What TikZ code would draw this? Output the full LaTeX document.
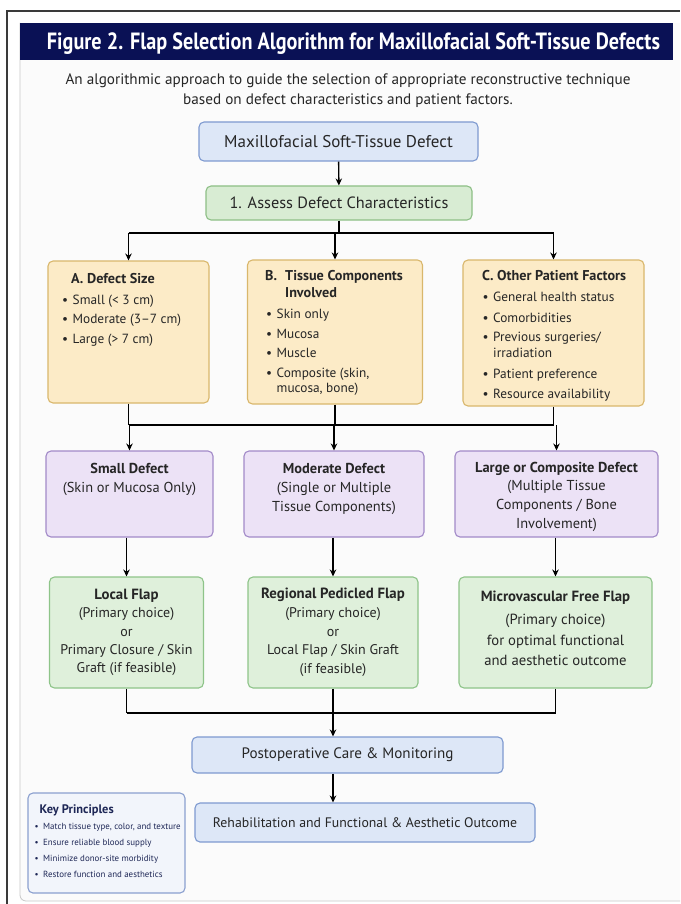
\documentclass[tikz,border=0pt]{standalone}
\usepackage{fontspec}
\setmainfont{PT Sans}
\usetikzlibrary{arrows.meta,calc}
\definecolor{navy}{HTML}{0A1155}
\definecolor{txt}{HTML}{262626}
\definecolor{bluefill}{HTML}{DDE7F7}
\definecolor{blueline}{HTML}{7E9AD0}
\definecolor{greenfill}{HTML}{D8ECD3}
\definecolor{greenline}{HTML}{8DBF86}
\definecolor{yelfill}{HTML}{FCEBC7}
\definecolor{yelline}{HTML}{D9B76C}
\definecolor{purfill}{HTML}{ECE2F6}
\definecolor{purline}{HTML}{A28AC8}
\definecolor{resfill}{HTML}{DFF0DB}
\definecolor{resline}{HTML}{8EC489}
\definecolor{keyfill}{HTML}{F2F5FB}
\definecolor{keyline}{HTML}{8BA0CF}
\definecolor{keytxt}{HTML}{1E2756}
\definecolor{panelbg}{HTML}{FBFBFB}
\definecolor{panelline}{HTML}{C8C8C8}
\definecolor{framec}{HTML}{3A3A3A}
\newcommand{\bul}{\makebox[10.5pt][l]{•}}
\begin{document}
\begin{tikzpicture}[x=1pt,y=-1pt,
  box/.style={draw, rounded corners=5pt, line width=1.1pt, inner sep=0pt, text=txt, align=center},
  bluebox/.style={box, fill=bluefill, draw=blueline},
  greenbox/.style={box, fill=greenfill, draw=greenline},
  yelbox/.style={box, fill=yelfill, draw=yelline},
  purbox/.style={box, fill=purfill, draw=purline},
  resbox/.style={box, fill=resfill, draw=resline},
  keybox/.style={box, fill=keyfill, draw=keyline},
  lst/.style={anchor=base west, inner sep=0pt, text=txt, font=\fontsize{13.3}{15}\selectfont},
  hd/.style={anchor=base west, inner sep=0pt, text=txt, font=\bfseries\fontsize{14.2}{15}\selectfont},
  ctr/.style={anchor=base, inner sep=0pt, text=txt, align=center, font=\fontsize{14.4}{19}\selectfont},
  klst/.style={anchor=base west, inner sep=0pt, text=keytxt, font=\fontsize{8.9}{10}\selectfont},
  conn/.style={line width=1.4pt, draw=black},
  arr/.style={conn, -{Stealth[length=7pt,width=6.5pt]}},
]
\useasboundingbox (0,0) rectangle (680,904);
\fill[white] (0,0) rectangle (680,904);
% panel and frame
\fill[panelbg] (20,23) rectangle (680,901);
\draw[panelline, line width=0.8pt, rounded corners=6pt] (20,23) -- (20,901) -- (680,901);
\draw[framec, line width=1.2pt] (7,904) -- (7,11) -- (680,11);
% banner
\fill[navy] (20,23) rectangle (673,60);
\node[anchor=base, inner sep=0pt, text=white, font=\bfseries\fontsize{23.5}{26}\selectfont] (title) at (353.5,49.5)
  {\resizebox{613pt}{\height}{Figure 2. Flap Selection Algorithm for Maxillofacial Soft-Tissue Defects}};
\node[anchor=base, inner sep=0pt, text=txt, align=center, font=\fontsize{15.2}{20}\selectfont] (sub) at (348,105)
  {An algorithmic approach to guide the selection of appropriate reconstructive technique\\
   based on defect characteristics and patient factors.};

% main boxes
\node[bluebox, minimum width=279pt, minimum height=39pt, font=\fontsize{17}{20}\selectfont] (start) at (338.5,141.5) {Maxillofacial Soft-Tissue Defect};
\node[greenbox, minimum width=266pt, minimum height=34pt, font=\fontsize{16.3}{19}\selectfont] (assess) at (339,203) {1. Assess Defect Characteristics};

\node[yelbox, minimum width=161pt, minimum height=142pt] (A) at (128.5,332) {};
\node[yelbox, minimum width=175pt, minimum height=144pt] (B) at (335,332) {};
\node[yelbox, minimum width=181pt, minimum height=146pt] (C) at (553.5,333) {};

% A text
\node[hd] (Ah) at (71,283.7) {A. Defect Size};
\node[lst] (A1) at (62,304.4) {\bul Small (< 3 cm)};
\node[lst] (A2) at (62,323.4) {\bul Moderate (3–7 cm)};
\node[lst] (A3) at (62,343.4) {\bul Large (> 7 cm)};
% B text
\node[hd] (Bh) at (265,280.7) {\makebox[20pt][l]{B.}Tissue Components};
\node[hd] (Bh2) at (285,297.7) {Involved};
\node[lst] (B1) at (266,318.4) {\bul Skin only};
\node[lst] (B2) at (266,338.1) {\bul Mucosa};
\node[lst] (B3) at (266,357.1) {\bul Muscle};
\node[lst] (B4) at (266,377.1) {\bul Composite (skin,};
\node[lst] (B5) at (276.5,392.7) {mucosa, bone)};
% C text
\node[hd] (Ch) at (482,280.4) {C. Other Patient Factors};
\node[lst] (C1) at (482.5,301.4) {\bul General health status};
\node[lst] (C2) at (482.5,322.1) {\bul Comorbidities};
\node[lst] (C3) at (482.5,341.4) {\bul Previous surgeries/};
\node[lst] (C3b) at (493,357.4) {irradiation};
\node[lst] (C4) at (482.5,378.4) {\bul Patient preference};
\node[lst] (C5) at (482.5,398.4) {\bul Resource availability};

% purple
\node[purbox, minimum width=167pt, minimum height=86pt] (P1) at (129.5,494) {};
\node[purbox, minimum width=180pt, minimum height=86pt] (P2) at (334,494) {};
\node[purbox, minimum width=203pt, minimum height=86pt] (P3) at (556.5,494) {};
\node[ctr] (P1t) at (129.5,492.5) {\textbf{Small Defect}\\(Skin or Mucosa Only)};
\node[ctr] (P2t) at (334,511.5) {\textbf{Moderate Defect}\\(Single or Multiple\\Tissue Components)};
\node[ctr, font=\fontsize{14.4}{18.7}\selectfont] (P3t) at (556.5,528.3) {\textbf{Large or Composite Defect}\\(Multiple Tissue\\Components / Bone\\Involvement)};

% green results
\node[resbox, minimum width=154pt, minimum height=111pt, font=\fontsize{14}{18.3}\selectfont] (G1) at (126.5,632.5)
  {{\bfseries\fontsize{14.8}{18.3}\selectfont Local Flap}\\(Primary choice)\\or\\Primary Closure / Skin\\Graft (if feasible)};
\node[resbox, minimum width=170pt, minimum height=111pt, font=\fontsize{14}{18.7}\selectfont] (G2) at (333,632.5)
  {{\bfseries\fontsize{14.8}{18.7}\selectfont Regional Pedicled Flap}\\(Primary choice)\\or\\Local Flap / Skin Graft\\(if feasible)};
\node[resbox, minimum width=193pt, minimum height=111pt] (G3) at (555.5,632.5) {};
\node[ctr, font=\fontsize{14.7}{20.5}\selectfont] (G3t) at (555.5,665.8)
  {{\bfseries\fontsize{14.8}{20.5}\selectfont Microvascular Free Flap}\\[2.5pt](Primary choice)\\for optimal functional\\and aesthetic outcome};

% bottom
\node[bluebox, minimum width=311pt, minimum height=36pt, font=\fontsize{15.1}{18}\selectfont] (post) at (347.5,755) {Postoperative Care \& Monitoring};
\node[bluebox, minimum width=340pt, minimum height=39pt, font=\fontsize{13.8}{17}\selectfont] (rehab) at (365,822.5) {Rehabilitation and Functional \& Aesthetic Outcome};

% key principles
\node[keybox, minimum width=157pt, minimum height=100pt] (key) at (106.5,843) {};
\node[anchor=base west, inner sep=0pt, text=keytxt, font=\bfseries\fontsize{12.4}{14}\selectfont] (keyh) at (39.5,813) {Key Principles};
\node[klst] (K1) at (34.5,829.9) {\makebox[8.5pt][l]{•}Match tissue type, color, and texture};
\node[klst] (K2) at (34.5,845.9) {\makebox[8.5pt][l]{•}Ensure reliable blood supply};
\node[klst] (K3) at (34.5,861.9) {\makebox[8.5pt][l]{•}Minimize donor-site morbidity};
\node[klst] (K4) at (34.5,877.9) {\makebox[8.5pt][l]{•}Restore function and aesthetics};

% connectors
\coordinate (h1) at (0,233);
\coordinate (h2) at (0,425);
\coordinate (h3) at (0,713);
\draw[arr] (start) -- (assess);
\draw[conn] (assess.south) -- (assess.south |- h1);
\draw[conn] (A.north |- h1) -- (C.north |- h1);
\foreach \n in {A,B,C} \draw[arr] (\n.north |- h1) -- (\n.north);
\foreach \n in {A,B,C} \draw[conn] (\n.south) -- (\n.south |- h2);
\draw[conn] (A.south |- h2) -- (C.south |- h2);
\foreach \n in {P1,P2,P3} \draw[arr] (\n.north |- h2) -- (\n.north);
\foreach \p/\g in {P1/G1,P2/G2,P3/G3} \draw[arr] (\g.north |- \p.south) -- (\g.north);
\foreach \g in {G1,G2,G3} \draw[conn] (\g.south) -- (\g.south |- h3);
\draw[conn] (G1.south |- h3) -- (G3.south |- h3);
\draw[arr] (G2.south |- h3) -- (G2.south |- post.north);
\draw[arr] (G2.south |- post.south) -- (G2.south |- rehab.north);
\end{tikzpicture}
\end{document}
